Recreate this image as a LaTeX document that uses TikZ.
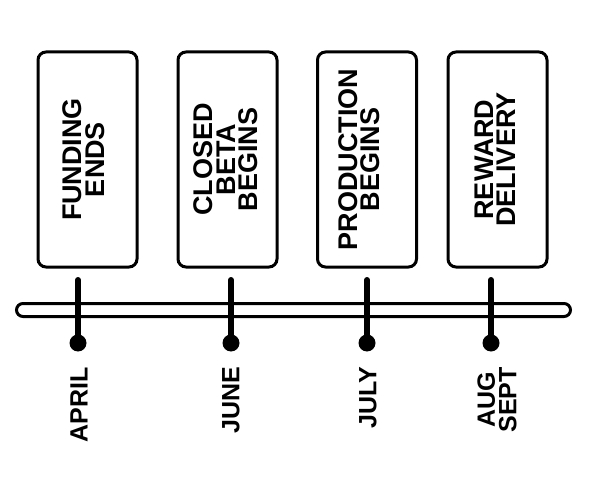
\documentclass[tikz,border=0pt]{standalone}
\usepackage{fontspec}
\setmainfont{Liberation Sans}

\begin{document}
\begin{tikzpicture}[
  x=1pt,y=-1pt,
  box/.style={draw=black,line width=3pt,rounded corners=8pt,fill=white,
    minimum width=99pt,minimum height=215pt,inner sep=0pt},
  boxtext/.style={font=\bfseries\fontsize{27}{22.5}\selectfont,align=center,rotate=90,inner sep=0pt},
  month/.style={font=\bfseries\fontsize{25}{21.5}\selectfont,align=center,rotate=90,anchor=east,inner sep=0pt},
  tick/.style={line width=6pt,line cap=round},
  dot/.style={circle,fill=black,minimum size=17pt,inner sep=0pt},
]
\useasboundingbox (0,0) rectangle (600,500);
% milestone boxes
\node[box] (fund) at (87.5,159.5) {};
\node[box] (beta) at (227.5,159.5) {};
\node[box] (prod) at (367,159.5) {};
\node[box] (reward) at (497.5,159.5) {};
\node[boxtext] (fundtxt) at ([xshift=-4]fund.center) {FUNDING\\ENDS};
\node[boxtext] (betatxt) at ([xshift=-1.5]beta.center) {CLOSED\\BETA\\BEGINS};
\node[boxtext] (prodtxt) at ([xshift=-8]prod.center) {PRODUCTION\\BEGINS};
\node[boxtext] (rewardtxt) at ([xshift=-2.5]reward.center) {REWARD\\DELIVERY};
% timeline bar
\draw[line width=3pt,fill=white,rounded corners=6.5pt] (16.5,303.5) rectangle (570.5,316.5);
% ticks and dots
\foreach \name/\px in {apr/78,jun/231,jul/367,aug/491}{
  \coordinate (\name top) at (\px,280);
  \node[dot] (\name) at (\px,343) {};
  \draw[tick] (\name top) -- (\name.center);
}
% month labels
\node[month] (aprtxt) at (79,367) {APRIL};
\node[month] (juntxt) at (231,367) {JUNE};
\node[month] (jultxt) at (368,367) {JULY};
\node[month] (augtxt) at (497,367) {AUG\\SEPT};
\end{tikzpicture}
\end{document}
